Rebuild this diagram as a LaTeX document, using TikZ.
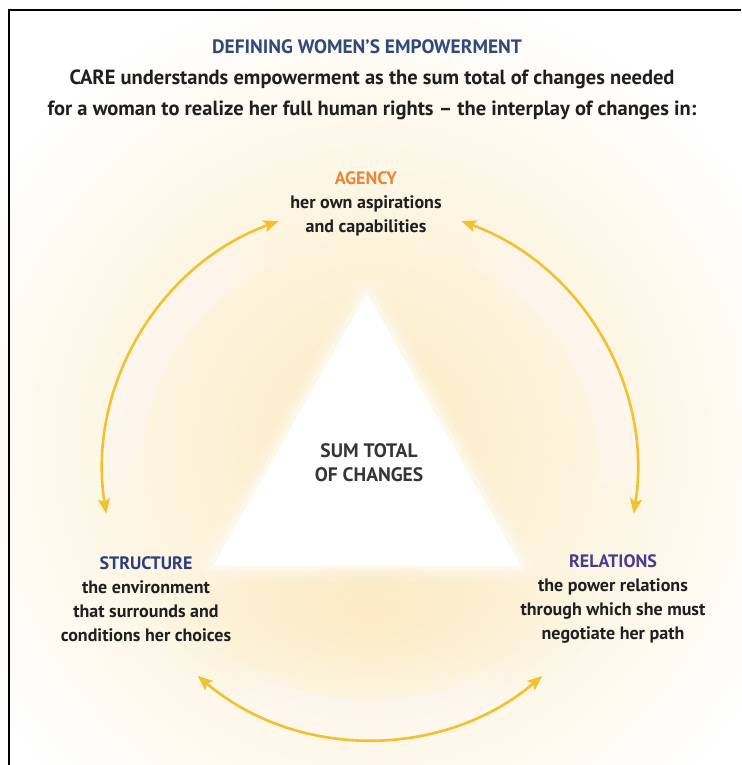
\documentclass[tikz,border=0pt]{standalone}
\usepackage{fontspec}
\setmainfont{PT Sans}
\usetikzlibrary{arrows.meta,fadings,calc}

\definecolor{titleblue}{HTML}{2F4A7A}
\definecolor{agencyorange}{HTML}{E5883A}
\definecolor{structblue}{HTML}{2A3E80}
\definecolor{relpurple}{HTML}{4B3B8F}
\definecolor{ink}{HTML}{1F1F1F}
\definecolor{ringgold}{HTML}{F2C12E}
\definecolor{glowA}{HTML}{FCEBC2}
\definecolor{glowB}{HTML}{FBE3AC}

\tikzfading[name=softdisc, inner color=transparent!0, outer color=transparent!100]

\begin{document}
\begin{tikzpicture}[x=1pt,y=1pt,
  ring/.style={draw=ringgold, line width=2.6pt, {Stealth[length=15pt,width=12pt,inset=3pt]}-{Stealth[length=15pt,width=12pt,inset=3pt]}},
  halo/.style={white, line width=38pt, opacity=0.09},
  headline/.style={text=titleblue, font=\bfseries\fontsize{19.4}{22}\selectfont, inner sep=0pt},
  intro/.style={text=ink, font=\bfseries\fontsize{20.5}{31}\selectfont, align=center, inner sep=0pt},
  body/.style={text=ink, font=\bfseries\fontsize{18}{24}\selectfont, align=center, inner sep=0pt},
  core/.style={text=ink!90, font=\bfseries\fontsize{19.5}{24}\selectfont, align=center, inner sep=0pt},
]
\useasboundingbox (0,0) rectangle (741,765);
\fill[white] (0,0) rectangle (741,765);

% ring geometry
\coordinate (c) at (370,293);
\def\R{267}

% warm glow behind the ring
\fill[glowA, path fading=softdisc] (370,320) ellipse (450 and 460);
\fill[glowB, path fading=softdisc, fill opacity=0.45] (370,150) ellipse (230 and 90);

% light bands on the inner side of the ring, tapering at both ends
\foreach \k in {0,...,5}{
  \draw[halo] ($(c)+(114+3*\k:248)$) arc[start angle=114+3*\k, end angle=186-3*\k, radius=248];
  \draw[halo] ($(c)+(66-3*\k:248)$) arc[start angle=66-3*\k, end angle=-6+3*\k, radius=248];
  \draw[halo] ($(c)+(234+3*\k:248)$) arc[start angle=234+3*\k, end angle=306-3*\k, radius=248];
}

% central triangle with soft edges
\coordinate (apex) at (367,472);
\coordinate (bl) at (213,199);
\coordinate (br) at (521,199);
\foreach \w/\o in {30/0.12, 20/0.2, 10/0.35}{
  \draw[white, line width=\w pt, opacity=\o, line join=round] (apex) -- (bl) -- (br) -- cycle;
}
\fill[white] (apex) -- (bl) -- (br) -- cycle;

% frame
\draw[line width=2.8pt] (9,0) -- (9,755) -- (741,755);

% ring arrows
\coordinate (agL) at ($(c)+(110:\R)$);
\coordinate (agR) at ($(c)+(70:\R)$);
\coordinate (stB) at ($(c)+(229.8:\R)$);
\draw[ring] (agL) arc[start angle=110, end angle=189, radius=\R];
\draw[ring] (agR) arc[start angle=70, end angle=-9, radius=\R];
\draw[ring] (stB) arc[start angle=229.8, end angle=310.2, radius=\R];

% texts
\node[headline] (title) at (367,718) {DEFINING WOMEN’S EMPOWERMENT};
\node[intro] (lead) at (372,670.5) {CARE understands empowerment as the sum total of changes needed\\for a woman to realize her full human rights – the interplay of changes in:};
\node[body] (agency) at (366,561) {\textcolor{agencyorange}{AGENCY}\\her own aspirations\\and capabilities};
\node[body] (structure) at (146,166) {\textcolor{structblue}{STRUCTURE}\\the environment\\that surrounds and\\conditions her choices};
\node[body] (relations) at (613,166) {\textcolor{relpurple}{RELATIONS}\\the power relations\\through which she must\\negotiate her path};
\node[core] (sum) at (369,302) {SUM TOTAL\\OF CHANGES};
\end{tikzpicture}
\end{document}
